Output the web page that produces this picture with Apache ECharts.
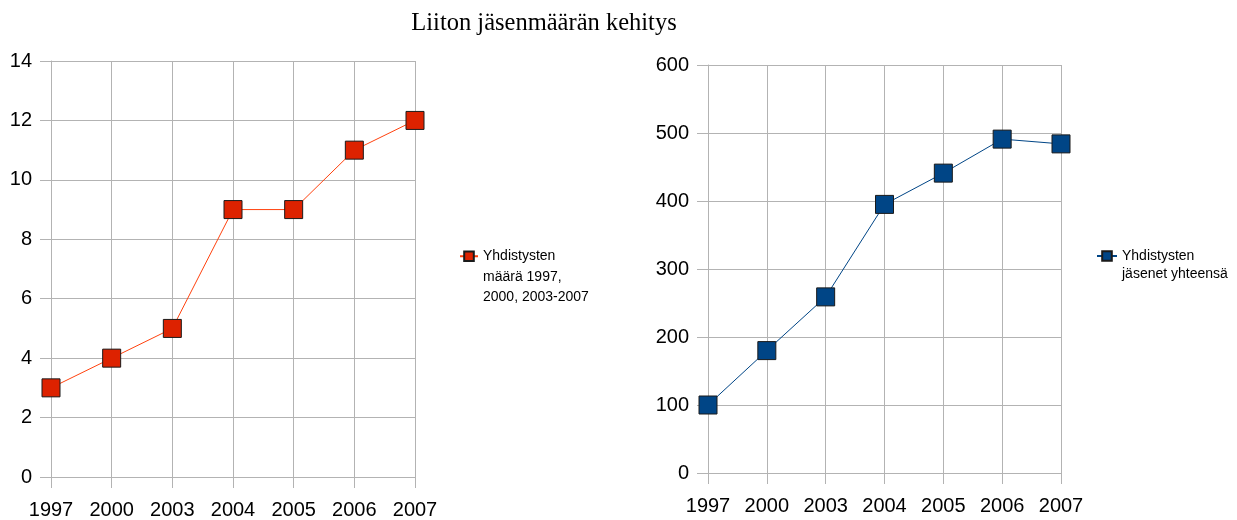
<!DOCTYPE html>
<html><head><meta charset="utf-8">
<script src="https://cdn.jsdelivr.net/npm/echarts@6/dist/echarts.min.js"></script>
<style>html,body{margin:0;padding:0;background:#fff}#c{width:1237px;height:520px}</style>
</head><body><div id="c"></div>
<script>
const titleText = 'Liiton jäsenmäärän kehitys';
const years = ['1997', '2000', '2003', '2004', '2005', '2006', '2007'];
const associationsCount = [3, 4, 5, 9, 9, 11, 12];
const membersTotal = [100, 180, 259, 395, 441, 491, 484];
const leftName = 'Yhdistysten\nmäärä 1997,\n2000, 2003-2007';
const rightName = 'Yhdistysten\njäsenet yhteensä';
const leftTicks = {min: 0, max: 14, interval: 2};
const rightTicks = {min: 0, max: 600, interval: 100};

const FONT = '"Liberation Sans", Arial, sans-serif';
const GRID = '#b3b3b3';
function xAx(gi) {
  return {
    type: 'category', gridIndex: gi, data: years, boundaryGap: false,
    axisLine: {lineStyle: {color: GRID}},
    axisTick: {show: true, length: 11, lineStyle: {color: GRID}},
    axisLabel: {color: '#000', fontFamily: FONT, fontSize: 20, margin: 23},
    splitLine: {show: true, lineStyle: {color: GRID, width: 1}}
  };
}
function yAx(gi, t) {
  return {
    type: 'value', gridIndex: gi, min: t.min, max: t.max, interval: t.interval,
    axisLine: {show: true, lineStyle: {color: GRID}},
    axisTick: {show: true, length: 11, lineStyle: {color: GRID}},
    axisLabel: {color: '#000', fontFamily: FONT, fontSize: 20, margin: 19},
    splitLine: {show: true, lineStyle: {color: GRID, width: 1}}
  };
}
const chart = echarts.init(document.getElementById('c'), null, {renderer: 'canvas'});
chart.setOption({
  animation: false,
  backgroundColor: '#fff',
  title: {
    text: titleText, left: 539, top: 6, textAlign: 'center',
    textStyle: {fontFamily: '"Liberation Serif", "Times New Roman", serif', fontSize: 24.5, fontWeight: 'normal', color: '#000'}
  },
  grid: [
    {left: 51, top: 61, width: 364, height: 416},
    {left: 708, top: 65, width: 353, height: 408}
  ],
  xAxis: [xAx(0), xAx(1)],
  yAxis: [yAx(0, leftTicks), yAx(1, rightTicks)],
  legend: [
    {
      data: [leftName], left: 459, top: 205, padding: 0,
      itemWidth: 18, itemHeight: 12, itemGap: 0,
      formatter: n => '\n\n' + n,
      textStyle: {fontFamily: FONT, fontSize: 14, color: '#000', lineHeight: 20.5}
    },
    {
      data: [rightName], left: 1096, top: 229, padding: 0,
      itemWidth: 20, itemHeight: 12, itemGap: 0,
      formatter: n => '\n' + n,
      textStyle: {fontFamily: FONT, fontSize: 14, color: '#000', lineHeight: 18}
    }
  ],
  series: [
    {
      name: leftName, type: 'line', xAxisIndex: 0, yAxisIndex: 0,
      data: associationsCount, symbol: 'rect', symbolSize: 18,
      lineStyle: {color: '#ff420e', width: 1},
      itemStyle: {color: '#dd2200', borderColor: '#1a1a1a', borderWidth: 1}
    },
    {
      name: rightName, type: 'line', xAxisIndex: 1, yAxisIndex: 1,
      data: membersTotal, symbol: 'rect', symbolSize: 18,
      lineStyle: {color: '#004586', width: 1},
      itemStyle: {color: '#004586', borderColor: '#1a1a1a', borderWidth: 1}
    }
  ]
});
</script></body></html>
